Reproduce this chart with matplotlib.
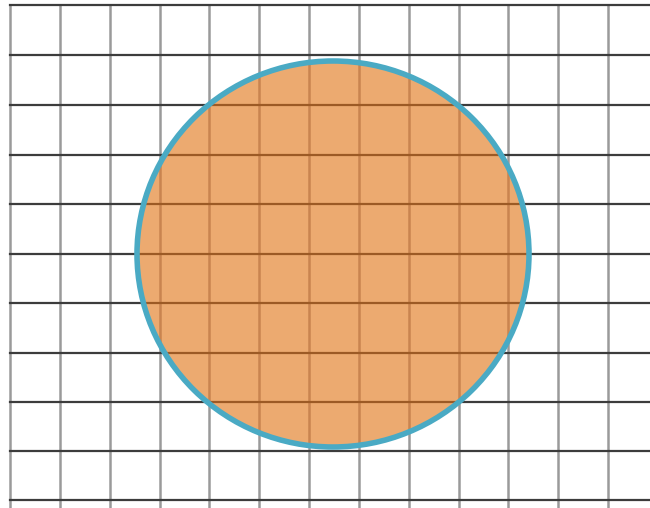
import matplotlib.pyplot as plt
from matplotlib.patches import Ellipse

# grid line positions (pixels)
grid_x = [10, 60, 110, 160, 209, 259, 309, 359, 409, 459, 508, 558, 608]
grid_y = [5, 55, 105, 155, 204, 254, 303, 353, 402, 451, 500]

# circle (slightly stretched in the picture)
circle_center = (333, 254)
circle_w = 392
circle_h = 386

fig = plt.figure(figsize=(6.5, 5.08), dpi=100)
ax = fig.add_axes([0, 0, 1, 1])
ax.set_xlim(0, 650)
ax.set_ylim(508, 0)
ax.axis('off')

for x in grid_x:
    ax.plot([x, x], [grid_y[0], 520], color='#9a9a9a', lw=1.8, zorder=1)
for y in grid_y:
    ax.plot([grid_x[0], 660], [y, y], color='#3c3c3c', lw=1.6, zorder=1)

fill = Ellipse(circle_center, circle_w, circle_h, facecolor='#ecaa70',
               edgecolor='none', zorder=2)
ax.add_patch(fill)

# grid seen through the fill, brownish
for x in grid_x:
    ln, = ax.plot([x, x], [grid_y[0], 520], color='#c98450', lw=1.8, zorder=2.5)
    ln.set_clip_path(fill)
for y in grid_y:
    ln, = ax.plot([grid_x[0], 660], [y, y], color='#9c5a25', lw=1.6, zorder=2.5)
    ln.set_clip_path(fill)

ax.add_patch(Ellipse(circle_center, circle_w, circle_h, facecolor='none',
                     edgecolor='#4aaac4', lw=4, zorder=3))

plt.savefig('out.png', dpi=100)
